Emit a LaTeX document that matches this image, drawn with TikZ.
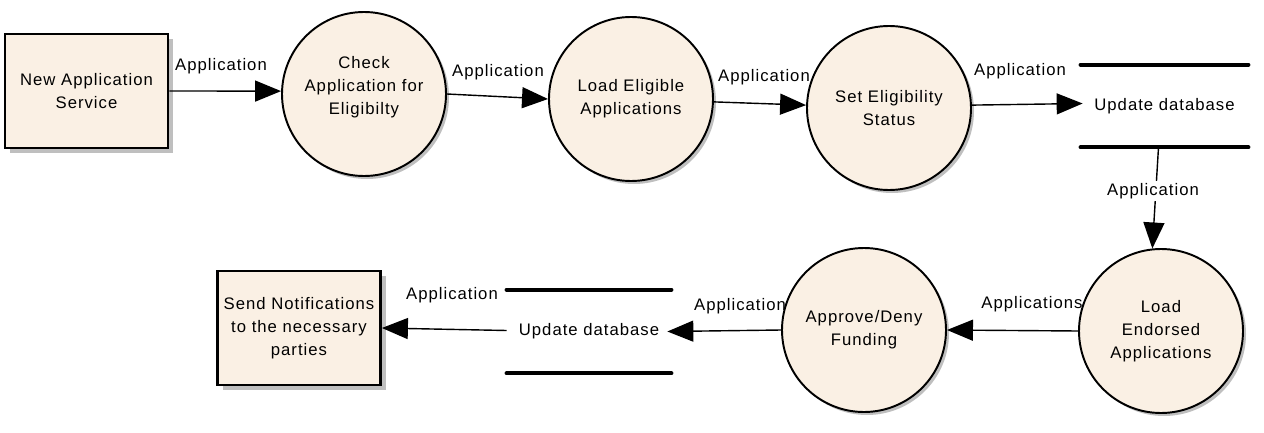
\documentclass[tikz,border=0pt]{standalone}
\usepackage{fontspec}
\setmainfont{Liberation Sans}[LetterSpace=6.0]
\usetikzlibrary{arrows.meta,shadows}
\definecolor{procfill}{HTML}{FAF0E4}
\tikzset{
  every node/.style={font=\fontsize{9.5}{13}\selectfont, text=black},
  proc/.style={circle, draw=black, line width=1.1pt, fill=procfill, minimum size=3.28cm, inner sep=0pt, align=center,
    drop shadow={shadow xshift=0.06cm, shadow yshift=-0.06cm, fill=black!25, opacity=1}},
  ext/.style={rectangle, draw=black, line width=1.6pt, fill=procfill, minimum width=3.26cm, minimum height=2.28cm, inner sep=0pt, align=center,
    drop shadow={shadow xshift=0.1cm, shadow yshift=-0.1cm, fill=black!25, opacity=1}},
  store/.style={rectangle, draw=none, minimum width=3.34cm, minimum height=1.64cm, inner sep=0pt},
  storeline/.style={line width=2.4pt, line cap=round},
  flow/.style={line width=0.8pt, -{Triangle[length=0.52cm, width=0.42cm]}},
  flowlabel/.style={inner sep=1pt}
}
\begin{document}
\begin{tikzpicture}
\useasboundingbox (0,0) rectangle (25.28,-8.66);
% nodes
\node[ext] (nas) at (1.73,-1.82) {New Application\\Service};
\node[proc] (chk) at (7.28,-1.88) {};
\node[align=center] (chktxt) at (7.28,-1.74) {Check\\Application for\\Eligibilty};
\node[proc] (lea) at (12.62,-1.98) {Load Eligible\\Applications};
\node[proc] (ses) at (17.78,-2.16) {Set Eligibility\\Status};
\node[store] (db1) at (23.29,-2.12) {Update database};
\node[proc] (lend) at (23.22,-6.62) {Load\\Endorsed\\Applications};
\node[proc] (adf) at (17.28,-6.60) {Approve/Deny\\Funding};
\node[store, minimum width=3.28cm, minimum height=1.66cm] (db2) at (11.78,-6.63) {Update database};
\node[ext] (snd) at (5.98,-6.56) {Send Notifications\\to the necessary\\parties};
% data store lines
\draw[storeline] (db1.north west) -- (db1.north east);
\draw[storeline] (db1.south west) -- (db1.south east);
\draw[storeline] (db2.north west) -- (db2.north east);
\draw[storeline] (db2.south west) -- (db2.south east);
% flows
\draw[flow] (nas.east) -- (chk.178);
\draw[flow] (chk.east) -- (lea.west);
\draw[flow] (lea.358) -- (ses.178);
\draw[flow] (ses.2) -- ([xshift=0.04cm,yshift=0.05cm]db1.west);
\draw[flow] ([xshift=-0.12cm]db1.south) -- (lend.96);
\draw[flow] (lend.west) -- (adf.east);
\draw[flow] (adf.west) -- ([xshift=-0.08cm]db2.east);
\draw[flow] ([yshift=0.02cm]db2.west) -- (snd.east);
% labels
\node[flowlabel] (l1) at (4.42,-1.32) {Application};
\node[flowlabel] (l2) at (9.96,-1.44) {Application};
\node[flowlabel] (l3) at (15.28,-1.54) {Application};
\node[flowlabel] (l4) at (20.40,-1.42) {Application};
\node[flowlabel, fill=white] (l5) at (23.06,-3.82) {Application};
\node[flowlabel] (l6) at (20.64,-6.08) {Applications};
\node[flowlabel] (l7) at (14.80,-6.12) {Application};
\node[flowlabel] (l8) at (9.04,-5.90) {Application};
\end{tikzpicture}
\end{document}
